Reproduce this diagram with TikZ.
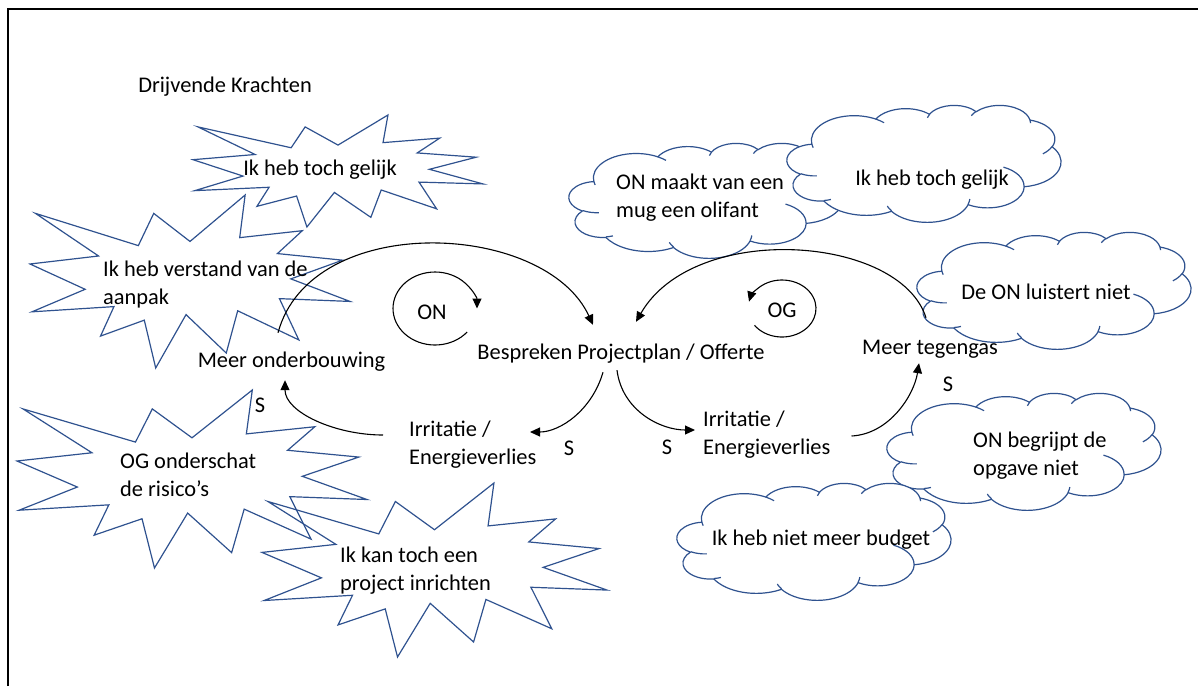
\documentclass[tikz,border=0pt]{standalone}
\usepackage{fontspec}
\setmainfont{Carlito}
\usetikzlibrary{arrows.meta, calc}

\definecolor{shapeblue}{HTML}{2F528F}

% elliptic arc given by radii, visual start angle and sweep
\tikzset{wc/.style n args={4}{x radius=#1, y radius=#2,
    start angle={atan2(#1*sin(#3),#2*cos(#3))},
    delta angle={mod(atan2(#1*sin(#3+#4),#2*cos(#3+#4))-atan2(#1*sin(#3),#2*cos(#3))+720,360)}}}

% explosion outline in a box x0 y0 w h
\newcommand{\burst}[4]{%
  \draw[burstline, shift={(#1,#2)}, xscale=#3/2160, yscale=#4/2160]
    (1080,580) -- (1452.2,0) -- (1415.5,532.5) -- (1838,445.7) -- (1670.2,731.5)
    -- (2109.7,813.7) -- (1760.7,1047.5) -- (2160,1329) -- (1683.7,1294.2)
    -- (1814.5,1809.5) -- (1402,1445.7) -- (1324.7,1973.7) -- (1053.2,1493.5)
    -- (848.5,2160) -- (771.5,1562.7) -- (476.2,1761.7) -- (566.7,1393.7)
    -- (13.5,1458.7) -- (372.2,1177.5) -- (0,861.5) -- (462.7,761.7)
    -- (37,229.5) -- (731.2,632) -- (835.2,229.5) -- cycle;}

% cloud outline in a box x0 y0 w h
\newcommand{\cloudshape}[4]{%
  \begin{scope}[shift={(#1,#2)}, xscale=#3/4320, yscale=#4/4320]
    \filldraw[cloudline, fill=white] (390,1437)
      arc[wc={675.3}{919}{-190.4875}{123.7805}]
      arc[wc={533.3}{726.7}{-144.1024}{89.9452}]
      arc[wc={436.5}{594.5}{-145.8079}{99.7230}]
      arc[wc={485.7}{659.5}{-130.9861}{117.2417}]
      arc[wc={533.3}{727.3}{-78.7089}{109.0269}]
      arc[wc={677.5}{922}{-46.2673}{130.2690}]
      arc[wc={578.5}{786.7}{0.6250}{114.0333}]
      arc[wc={675.2}{921.5}{22.4516}{115.1726}]
      arc[wc={772}{1054.3}{66.2426}{75.7110}]
      arc[wc={436}{591.8}{-274.9421}{146.7356}]
      arc[wc={434.5}{594.5}{-246.8285}{152.5189}] -- cycle;
    \draw[cloudline]
      (469.3,2617.7) arc[wc={434.5}{594.5}{86.7420}{26.4295}]
      (692.8,3489.9) arc[wc={436}{591.8}{73.6105}{11.4475}]
      (1647.8,3909) arc[wc={675.2}{921.5}{137.6242}{14.0811}]
      (2882.7,3475.1) arc[wc={675.2}{921.5}{6.4533}{15.9984}]
      (3412.9,2295.4) arc[wc={578.5}{786.7}{-70.2924}{70.9174}]
      (4179.8,1535.4) arc[wc={533.3}{727.3}{30.3180}{27.7515}]
      (3832.4,542.6) arc[wc={485.7}{659.5}{-13.7443}{14.8589}]
      (2907.8,395.2) arc[wc={485.7}{659.5}{-149.1815}{18.1954}]
      (2214.1,472) arc[wc={436.5}{594.5}{-163.4943}{17.6864}]
      (1400,519.2) arc[wc={675.3}{919}{-66.7070}{12.3194}]
      (412.7,1578.9) arc[wc={675.3}{919}{157.6544}{11.8582}];
  \end{scope}}

\begin{document}
\begin{tikzpicture}[x=1pt, y=-1pt,
  >={Triangle[length=10pt, width=9pt]},
  every node/.style={font=\fontsize{22.4}{27.3}\selectfont, inner sep=0pt},
  txt/.style={text height=16pt, text depth=5pt},
  multi/.style={align=left},
  arr/.style={->, line width=1.1pt},
  burstline/.style={draw=shapeblue, line width=1.2pt},
  cloudline/.style={draw=shapeblue, line width=1.2pt},
]
  \useasboundingbox (0,0) rectangle (1198,686);
  \draw[line width=2pt] (8,686) -- (8,9) -- (1198,9);

  % explosions and clouds
  \burst{193}{115}{290}{112}
  \burst{30}{195}{320}{173}
  \burst{17}{390}{350}{178}
  \burst{262}{483}{345}{174}
  \cloudshape{569}{143}{274}{115}
  \cloudshape{787}{105}{274}{117}
  \cloudshape{917}{232}{274}{117}
  \cloudshape{887}{393}{274}{117}
  \cloudshape{677}{483}{274}{117}

  % multi-line nodes sit on the baseline of their last line
  \node[anchor=base] (title) at (225,92) {Drijvende Krachten};
  \node[anchor=base] (gelijk1) at (320,175) {Ik heb toch gelijk};
  \node[multi, anchor=base west] (verstand) at (103,304) {Ik heb verstand van de\\aanpak};
  \node[multi, anchor=base west] (risico) at (120,496) {OG onderschat\\de risico’s};
  \node[multi, anchor=base west] (inrichten) at (340,590) {Ik kan toch een\\project inrichten};
  \node[multi, anchor=base west] (olifant) at (616,217) {ON maakt van een\\mug een olifant};
  \node[anchor=base] (gelijk2) at (932,185) {Ik heb toch gelijk};
  \node[anchor=base] (luistert) at (1046,299) {De ON luistert niet};
  \node[multi, anchor=base west] (opgave) at (973,475) {ON begrijpt de\\opgave niet};
  \node[anchor=base] (budget) at (821,545) {Ik heb niet meer budget};

  % the loop
  \node[txt, anchor=base] (plan) at (621,359) {Bespreken Projectplan / Offerte};
  \node[txt, anchor=base] (onderb) at (291.5,367) {Meer onderbouwing};
  \node[txt, anchor=base] (tegengas) at (930,354) {Meer tegengas};
  \node[multi, anchor=base west] (irrL) at (409,464) {Irritatie /\\Energieverlies};
  \node[multi, anchor=base west] (irrR) at (703,454) {Irritatie /\\Energieverlies};
  \node[txt, anchor=base] (on) at (432,319) {ON};
  \node[txt, anchor=base] (og) at (782,317) {OG};
  \foreach \n/\x/\y in {s1/260/412, s2/569/455, s3/667/454, s4/948/391}
    \node[anchor=base] (\n) at (\x,\y) {S};

  \draw[arr] ($(onderb.north)+(-13.5,-18)$) .. controls +(33,-122) and +(-48,-104) .. ($(plan.north)+(-28,-18)$);
  \draw[arr] ($(tegengas.north)+(-4,-20)$) .. controls +(-26,-83) and +(58,-101) .. ($(plan.north)+(15,-21)$);
  \draw[arr] ($(plan.south)+(-18,8)$) .. controls +(-11,38) and +(30,0) .. ($(irrL.base west)+(121,-32)$);
  \draw[arr] ($(plan.south)+(-4,6)$) .. controls +(5,40) and +(-35,0) .. ($(irrR.base west)+(-8,-24)$);
  \draw[arr] ($(irrL.base west)+(-26,-29)$) .. controls +(-48,0) and +(0,32) .. ($(onderb.south)+(-6.5,8)$);
  \draw[arr] ($(irrR.base east)+(21,-18)$) .. controls +(38,-2) and +(-5,32) .. ($(tegengas.south)+(-11,4)$);
  \draw[arr] ($(on)+(3,-5)+(40:42 and 36.5)$) arc[start angle=40, end angle=360, x radius=42, y radius=36.5];
  \draw[arr] ($(og)+(0,-3)+(144:34 and 28.5)$) arc[start angle=144, end angle=-166, x radius=34, y radius=28.5];
\end{tikzpicture}
\end{document}
